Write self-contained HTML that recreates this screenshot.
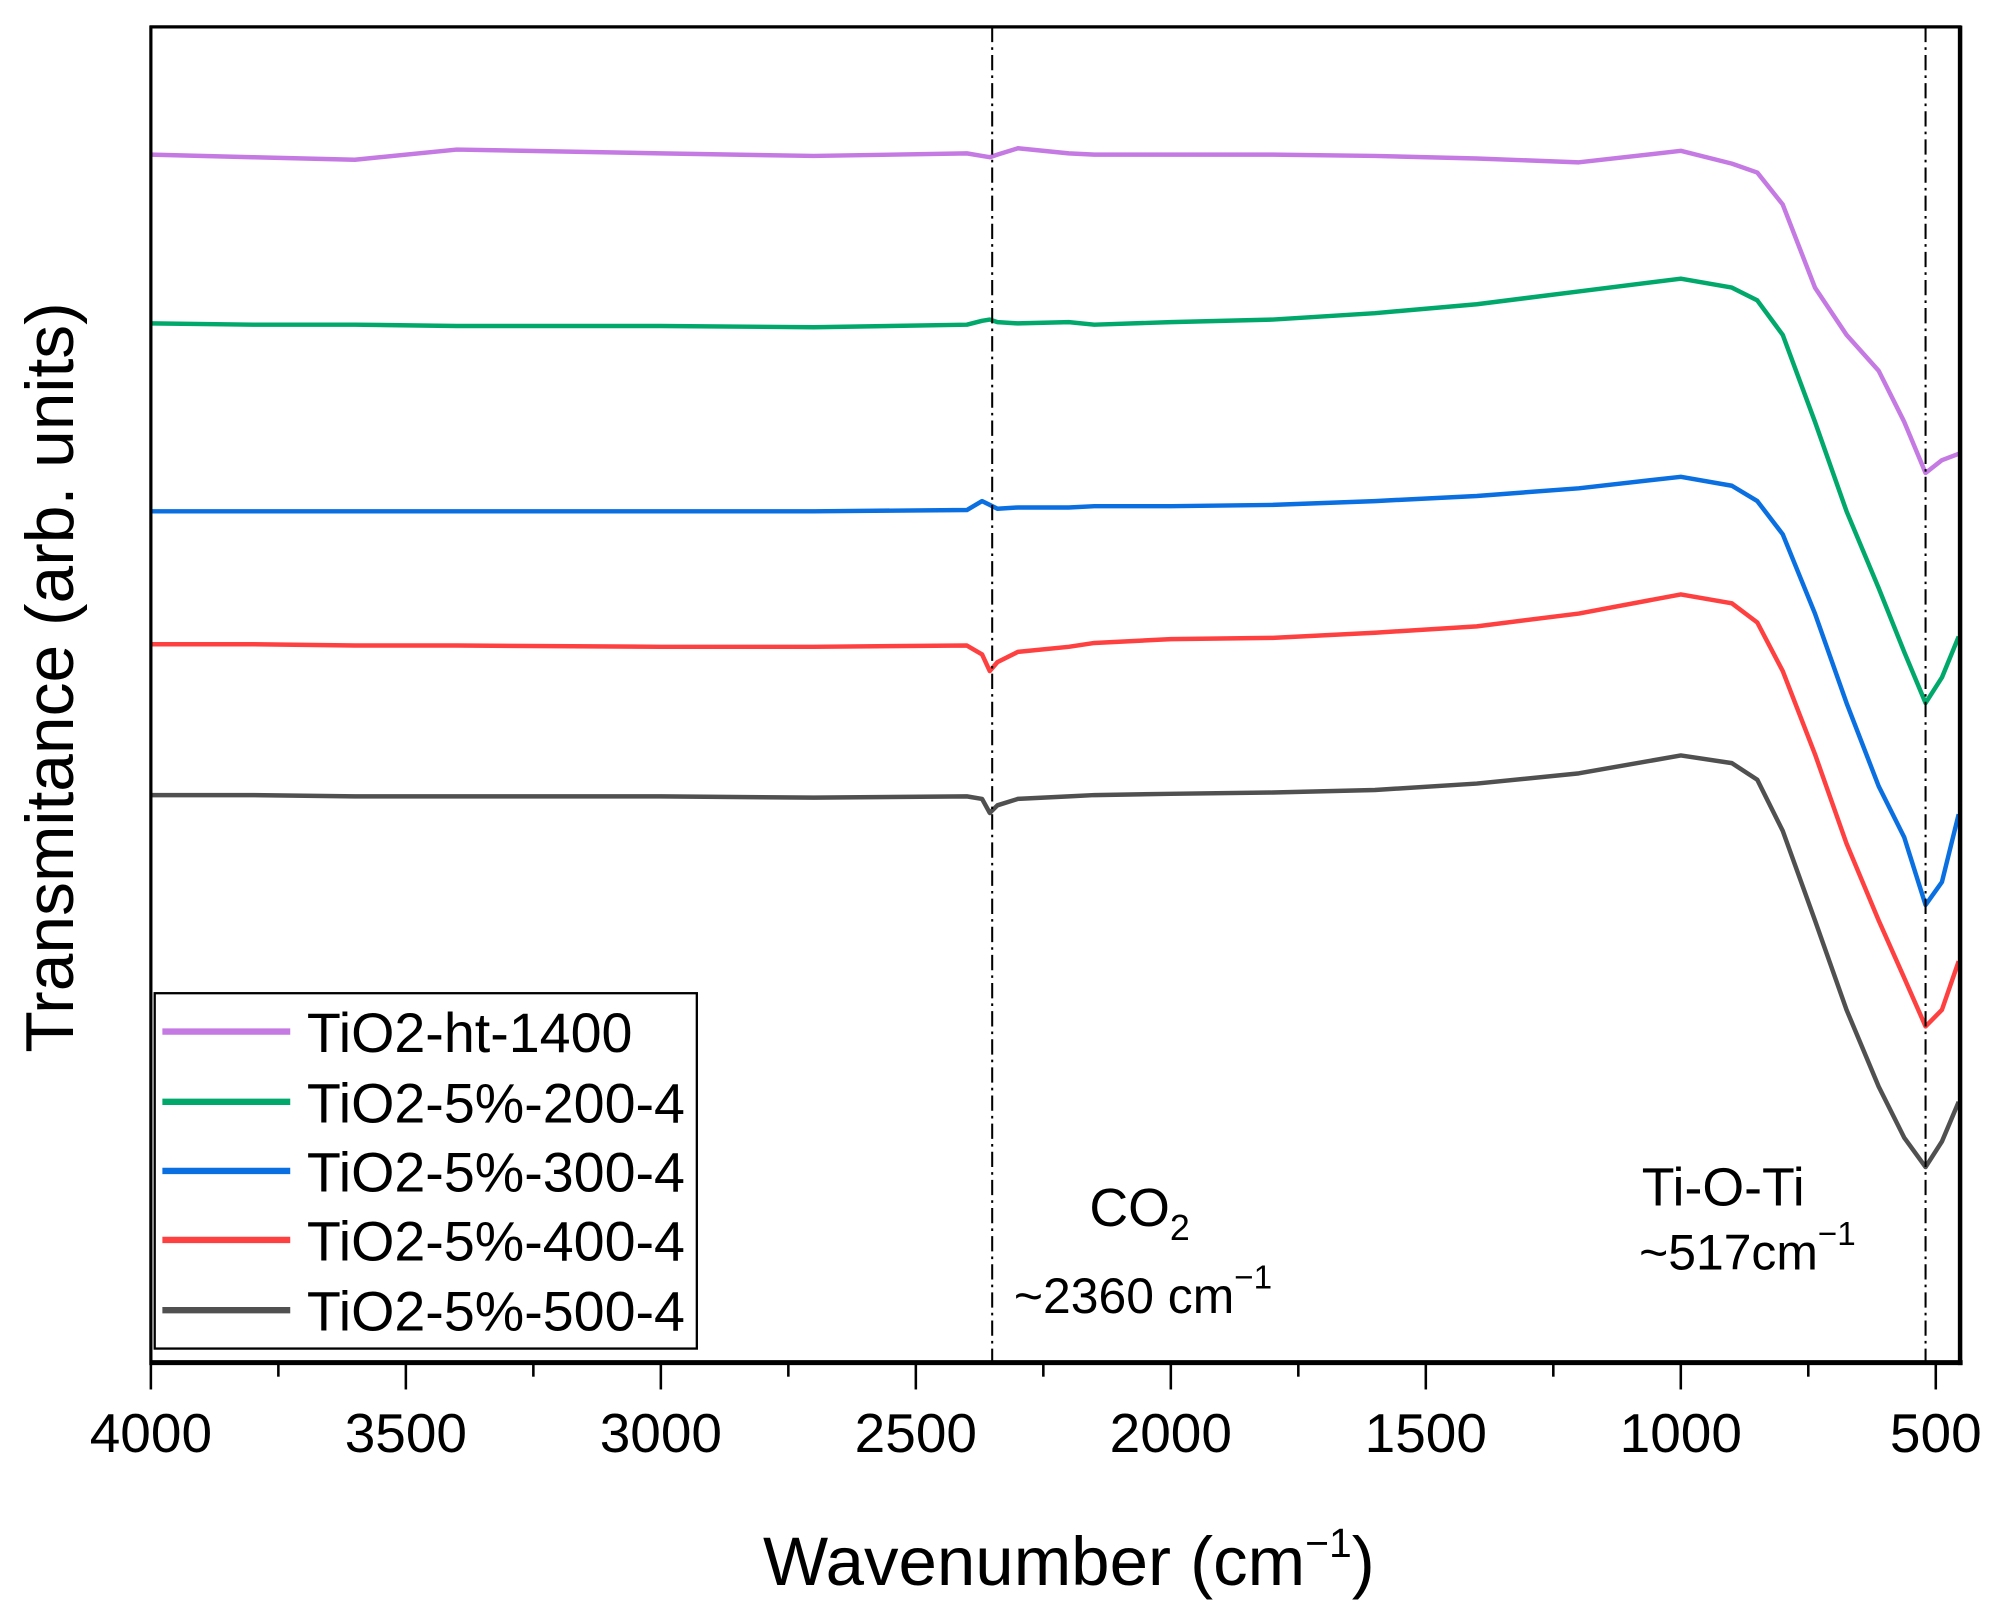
<!DOCTYPE html>
<html><head><meta charset="utf-8"><style>
html,body{margin:0;padding:0;background:#fff;}
svg{display:block;}
text{font-family:"Liberation Sans",Arial,sans-serif;fill:#000;}
</style></head><body>
<svg id="chart" width="2001" height="1617" viewBox="0 0 1565 1265" preserveAspectRatio="none" xmlns="http://www.w3.org/2000/svg">
<g id="series"></g>
<line x1="776" y1="21" x2="776" y2="1067" stroke="#000" stroke-width="1.6" stroke-dasharray="12,4,2,4"/>
<line x1="1506" y1="21" x2="1506" y2="1067" stroke="#000" stroke-width="1.6" stroke-dasharray="12,4,2,4"/>
<line x1="117" y1="21" x2="1534" y2="21" stroke="#000" stroke-width="2.5"/>
<line x1="1533" y1="20" x2="1533" y2="1068" stroke="#000" stroke-width="3.5"/>
<line x1="118" y1="20" x2="118" y2="1068" stroke="#000" stroke-width="2.5"/>
<line x1="117" y1="1066" x2="1535" y2="1066" stroke="#000" stroke-width="4"/>
<g id="ticks"></g>
<text x="836" y="1240" font-size="54" text-anchor="middle">Wavenumber (cm<tspan dy="-22" font-size="32">−1</tspan><tspan dy="22">)</tspan></text>
<text transform="translate(57,530) rotate(-90)" font-size="53" text-anchor="middle">Transmitance (arb. units)</text>
<g>
<rect x="121" y="777" width="424" height="278" fill="#fff" stroke="#000" stroke-width="1.8"/>
<line x1="127" y1="807" x2="227" y2="807" stroke="#c47ae2" stroke-width="5"/>
<text x="240" y="823" font-size="43.5">TiO2-ht-1400</text>
<line x1="127" y1="862" x2="227" y2="862" stroke="#00a86b" stroke-width="5"/>
<text x="240" y="878" font-size="43.5">TiO2-5%-200-4</text>
<line x1="127" y1="916" x2="227" y2="916" stroke="#0a6fe0" stroke-width="5"/>
<text x="240" y="932" font-size="43.5">TiO2-5%-300-4</text>
<line x1="127" y1="970" x2="227" y2="970" stroke="#ff4040" stroke-width="5"/>
<text x="240" y="986" font-size="43.5">TiO2-5%-400-4</text>
<line x1="127" y1="1025" x2="227" y2="1025" stroke="#505050" stroke-width="5"/>
<text x="240" y="1041" font-size="43.5">TiO2-5%-500-4</text>
</g>
<text x="852" y="959" font-size="42">CO<tspan dy="11" font-size="28">2</tspan></text>
<text x="793" y="1027" font-size="39">~2360 cm<tspan dy="-19" font-size="26">−1</tspan></text>
<text x="1284" y="943" font-size="42">Ti-O-Ti</text>
<text x="1282" y="993" font-size="39">~517cm<tspan dy="-19" font-size="26">−1</tspan></text>
</svg>
<script>
const wavenumbers = [4000,3800,3600,3400,3000,2700,2400,2370,2355,2340,2300,2200,2150,2000,1800,1600,1400,1200,1000,900,850,800,737,675,612,562,520,488,455];
const ht1400 = [946,944,942,950,947,945,947,945,944,946,951,947,946,946,946,945,943,940,949,939,932,907,842,805,777,737,697,707,712];
const s200 = [814,813,813,812,812,811,813,816,817,815,814,815,813,815,817,822,829,839,849,842,832,805,737,667,607,557,517,537,569];
const s300 = [667,667,667,667,667,667,668,675,672,669,670,670,671,671,672,675,679,685,694,687,675,649,587,517,452,412,359,377,430];
const s400 = [563,563,562,562,561,561,562,555,542,549,557,561,564,567,568,572,577,587,602,595,580,542,477,407,347,302,264,277,315];
const s500 = [445,445,444,444,444,443,444,442,431,437,442,444,445,446,447,449,454,462,476,470,457,417,347,277,217,177,154,174,205];
const seriesNames = ["ht-1400","200","300","400","500"];
const seriesColors = ["#c47ae2","#00a86b","#0a6fe0","#ff4040","#505050"];
const allSeries = [ht1400,s200,s300,s400,s500];
const xTickValues = [4000,3500,3000,2500,2000,1500,1000,500];
const xTickLabels = ["4000","3500","3000","2500","2000","1500","1000","500"];
const xMinorValues = [3750,3250,2750,2250,1750,1250,750];

const NS = "http://www.w3.org/2000/svg";
function xScale(w){ return 118 + (4000 - w) * (1396/3500); }
function yScale(v){ return 1067 - v; }

const sg = document.getElementById("series");
allSeries.forEach((vals, i) => {
  const p = document.createElementNS(NS, "polyline");
  p.setAttribute("points", wavenumbers.map((w, j) => xScale(w).toFixed(1) + "," + yScale(vals[j]).toFixed(1)).join(" "));
  p.setAttribute("fill", "none");
  p.setAttribute("stroke", seriesColors[i]);
  p.setAttribute("stroke-width", "3.5");
  p.setAttribute("stroke-linejoin", "round");
  
  
  sg.appendChild(p);
});

const tg = document.getElementById("ticks");
xTickValues.forEach((w, i) => {
  const x = xScale(w);
  const l = document.createElementNS(NS, "line");
  l.setAttribute("x1", x); l.setAttribute("x2", x);
  l.setAttribute("y1", 1066); l.setAttribute("y2", 1087);
  l.setAttribute("stroke", "#000"); l.setAttribute("stroke-width", "2");
  
  
  tg.appendChild(l);
  const t = document.createElementNS(NS, "text");
  t.setAttribute("x", x); t.setAttribute("y", 1136);
  t.setAttribute("font-size", "43");
  t.setAttribute("text-anchor", "middle");
  t.textContent = xTickLabels[i];
  
  
  tg.appendChild(t);
});
xMinorValues.forEach((w) => {
  const x = xScale(w);
  const l = document.createElementNS(NS, "line");
  l.setAttribute("x1", x); l.setAttribute("x2", x);
  l.setAttribute("y1", 1066); l.setAttribute("y2", 1077);
  l.setAttribute("stroke", "#000"); l.setAttribute("stroke-width", "2");
  
  
  tg.appendChild(l);
});
</script>
</body></html>
